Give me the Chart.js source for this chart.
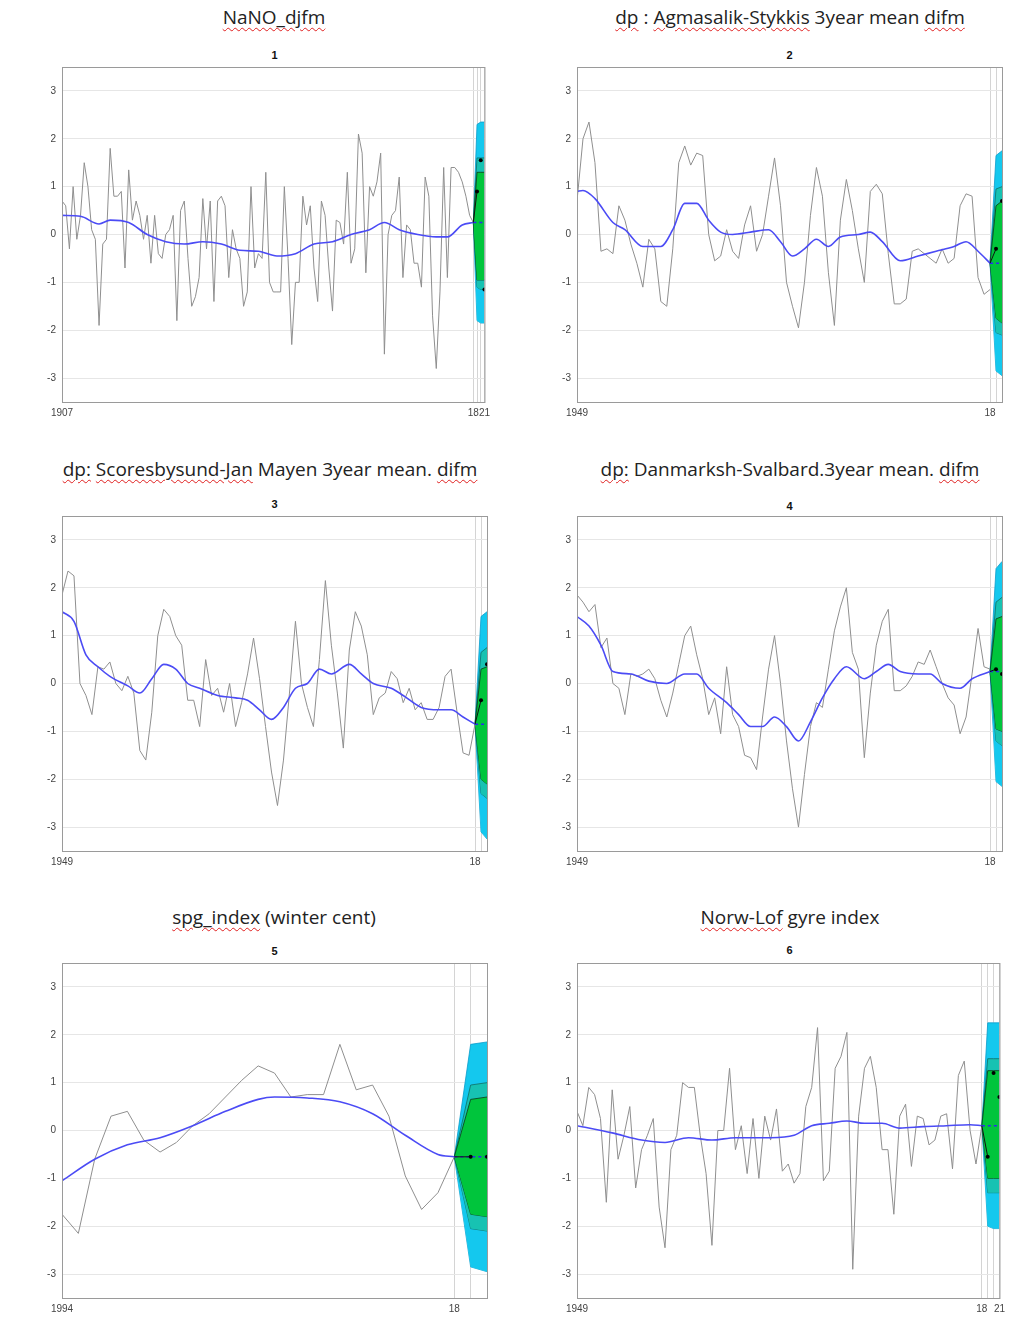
<!DOCTYPE html>
<html>
<head>
<meta charset="utf-8">
<script src="https://cdn.jsdelivr.net/npm/chart.js@4.4.1/dist/chart.umd.min.js"></script>
<style>
  body { margin: 0; background: #fff; width: 1012px; height: 1321px; overflow: hidden; position: relative; font-family: "Open Sans", "Noto Sans", sans-serif; }
  .title { position: absolute; width: 440px; text-align: center; font-size: 19px; color: #222; white-space: nowrap; }
  .sp { text-decoration: underline wavy #e02020; text-decoration-thickness: 1px; text-underline-offset: 3px; }
  .sub { position: absolute; width: 425px; text-align: center; font: bold 11px "Liberation Sans", Arial, sans-serif; color: #111; }
  canvas { position: absolute; }
</style>
</head>
<body>
<div class="title" style="left:54px;top:4px"><span class="sp">NaNO_djfm</span></div>
<div class="title" style="left:570px;top:4px"><span class="sp">dp</span> : <span class="sp">Agmasalik-Stykkis</span> 3year mean <span class="sp">difm</span></div>
<div class="title" style="left:30px;top:456px;width:480px"><span class="sp">dp:</span> <span class="sp">Scoresbysund-Jan</span> Mayen 3year mean. <span class="sp">difm</span></div>
<div class="title" style="left:550px;top:456px;width:480px"><span class="sp">dp:</span> Danmarksh-Svalbard.3year mean. <span class="sp">difm</span></div>
<div class="title" style="left:54px;top:904px"><span class="sp">spg_index</span> (winter cent)</div>
<div class="title" style="left:570px;top:904px"><span class="sp">Norw-Lof</span> gyre index</div>
<div class="sub" style="left:62px;top:49px">1</div>
<div class="sub" style="left:577px;top:49px">2</div>
<div class="sub" style="left:62px;top:498px">3</div>
<div class="sub" style="left:577px;top:500px">4</div>
<div class="sub" style="left:62px;top:945px">5</div>
<div class="sub" style="left:577px;top:944px">6</div>

<canvas id="c1" width="465" height="367" style="left:30px;top:55px"></canvas>
<canvas id="c2" width="465" height="367" style="left:545px;top:55px"></canvas>
<canvas id="c3" width="465" height="367" style="left:30px;top:504px"></canvas>
<canvas id="c4" width="465" height="367" style="left:545px;top:504px"></canvas>
<canvas id="c5" width="465" height="367" style="left:30px;top:951px"></canvas>
<canvas id="c6" width="465" height="367" style="left:545px;top:951px"></canvas>

<script>
// ---- data ----
const yTicks = [-3, -2, -1, 0, 1, 2, 3];

// panel 1: NaNO djfm, 1907-2018
const obs1 = [0.7,0.6,-0.3,1.0,-0.1,0.4,1.5,1.0,0.1,-0.1,-1.9,-0.2,-0.1,1.8,0.8,0.8,0.9,-0.7,1.35,0.3,
  0.7,0.4,-0.1,0.4,-0.6,0.4,-0.4,-0.5,0.0,0.1,0.4,-1.8,0.5,0.7,-0.5,-1.5,-1.3,-0.9,0.75,-0.3,
  0.7,-1.4,0.7,0.8,0.6,-0.9,0.1,-0.3,-0.5,-1.5,-1.2,1.0,-0.7,-0.4,-0.5,1.3,-1.0,-1.2,-1.2,-1.2,
  1.0,-0.5,-2.3,-1.0,-1.0,0.8,0.2,0.6,-0.7,-1.4,0.7,0.4,-0.7,-1.6,0.3,0.25,-0.2,1.3,-0.6,-0.3,
  2.1,1.7,-0.8,1.0,0.8,1.1,1.7,-2.5,0.0,0.4,0.5,1.2,-0.9,0.2,0.1,-0.6,-0.6,-1.1,1.2,0.8,
  -1.7,-2.8,-1.2,1.4,-0.9,1.4,1.4,1.3,1.1,0.8,0.4,0.25];
const smoothYears1 = [1907,1912,1917,1920,1925,1930,1935,1940,1945,1950,1955,1960,1965,1970,1975,1980,1985,1990,1994,1998,2003,2008,2011,2015,2018];
const smooth1 = [0.4,0.38,0.22,0.3,0.25,0.0,-0.15,-0.2,-0.15,-0.2,-0.33,-0.35,-0.45,-0.4,-0.2,-0.15,0.0,0.1,0.25,0.1,0.0,-0.05,-0.05,0.2,0.25];
const cyanHi1 = [0.25,2.3,2.35,2.35], cyanLo1 = [0.25,-1.8,-1.85,-1.85];
const tealHi1 = [0.25,1.6,1.6,1.6],   tealLo1 = [0.25,-1.1,-1.15,-1.15];
const greenHi1 = [0.25,1.3,1.3,1.3],  greenLo1 = [0.25,-0.95,-0.95,-0.95];
const fcst1 = [0.25,0.9,1.55,-1.15];

// panel 2: Agmasalik-Stykkis, 1949-2018
const obs2 = [0.7,2.0,2.35,1.5,-0.35,-0.3,-0.4,0.6,0.3,-0.2,-0.6,-1.1,-0.1,-0.3,-1.4,-1.5,-0.3,1.5,1.85,1.45,
  1.7,1.65,0.0,-0.55,-0.45,0.1,-0.35,-0.5,0.2,0.6,-0.35,0.0,0.8,1.6,0.6,-1.0,-1.5,-1.95,-1.0,0.4,
  1.4,0.8,-0.8,-1.9,0.3,1.15,0.5,-0.3,-1.0,0.9,1.05,0.85,-0.4,-1.45,-1.45,-1.35,-0.35,-0.3,-0.4,-0.5,
  -0.6,-0.3,-0.6,-0.5,0.6,0.85,0.8,-0.9,-1.25,-1.15];
const smoothYears2 = [1949,1950,1952,1955,1957,1960,1963,1965,1967,1969,1971,1973,1975,1978,1981,1983,1985,1987,1989,1991,1993,1996,1998,2000,2003,2006,2009,2012,2014,2016,2018];
const smooth2 = [0.9,0.92,0.75,0.25,0.1,-0.25,-0.25,0.1,0.65,0.65,0.3,0.05,0.0,0.05,0.1,-0.15,-0.45,-0.3,-0.1,-0.25,-0.05,0.0,0.05,-0.15,-0.55,-0.45,-0.35,-0.25,-0.15,-0.35,-0.6];
const cyanHi2 = [-0.6,1.65,1.75],  cyanLo2 = [-0.6,-2.85,-2.95];
const tealHi2 = [-0.6,0.95,1.0],   tealLo2 = [-0.6,-2.05,-2.1];
const greenHi2 = [-0.6,0.6,0.7],   greenLo2 = [-0.6,-1.75,-1.85];
const fcst2 = [-0.6,-0.3,0.7];

// panel 3: Scoresbysund-Jan Mayen, 1949-2018
const obs3 = [1.85,2.35,2.25,0.0,-0.25,-0.65,0.35,0.3,0.45,0.0,-0.15,0.15,-0.2,-1.4,-1.6,-0.6,1.0,1.55,1.4,1.0,
  0.8,-0.35,-0.35,-0.9,0.5,-0.25,-0.1,-0.6,0.0,-0.9,-0.4,0.2,0.95,0.1,-0.9,-1.85,-2.55,-1.6,-0.2,1.3,
  0.0,-0.5,-0.9,0.5,2.15,0.8,-0.2,-1.35,0.7,1.5,1.2,0.6,-0.65,-0.3,-0.2,0.25,0.1,-0.4,-0.1,-0.55,
  -0.4,-0.75,-0.75,-0.5,0.15,0.3,-0.6,-1.45,-1.5,-0.85];
const smoothYears3 = [1949,1951,1953,1955,1957,1960,1962,1964,1966,1968,1970,1972,1975,1978,1980,1982,1984,1986,1988,1990,1992,1994,1997,1999,2001,2004,2006,2009,2012,2014,2016,2018];
const smooth3 = [1.5,1.3,0.6,0.35,0.15,-0.05,-0.2,0.1,0.4,0.3,0.0,-0.1,-0.25,-0.3,-0.35,-0.55,-0.75,-0.5,-0.1,0.0,0.3,0.2,0.4,0.2,0.0,-0.1,-0.25,-0.5,-0.55,-0.55,-0.7,-0.85];
const cyanHi3 = [-0.85,1.4,1.5],   cyanLo3 = [-0.85,-3.1,-3.25];
const tealHi3 = [-0.85,0.65,0.75], tealLo3 = [-0.85,-2.3,-2.4];
const greenHi3 = [-0.85,0.3,0.35], greenLo3 = [-0.85,-2.0,-2.1];
const fcst3 = [-0.85,-0.35,0.4];

// panel 4: Danmarksh-Svalbard, 1949-2018
const obs4 = [1.85,1.7,1.5,1.65,0.75,0.95,0.0,-0.1,-0.65,0.2,0.15,0.2,0.3,0.1,-0.35,-0.7,-0.2,0.4,1.0,1.2,
  0.6,0.1,-0.65,-0.3,-1.05,0.35,-0.65,-0.9,-1.5,-1.55,-1.8,-0.7,0.3,1.0,0.0,-1.2,-2.2,-3.0,-1.9,-0.9,
  -0.4,-0.5,0.3,1.1,1.6,2.0,0.65,0.3,-1.55,-0.2,0.8,1.3,1.55,-0.15,-0.15,-0.05,0.15,0.45,0.4,0.7,
  0.35,0.0,-0.3,-0.45,-1.05,-0.7,0.2,1.15,0.35,0.3];
const smoothYears4 = [1949,1951,1953,1955,1958,1961,1964,1967,1969,1971,1974,1976,1978,1980,1982,1984,1986,1988,1990,1992,1994,1997,1999,2001,2003,2006,2008,2010,2013,2015,2018];
const smooth4 = [1.4,1.2,0.8,0.25,0.2,0.05,0.0,0.2,0.2,-0.1,-0.4,-0.65,-0.9,-0.9,-0.7,-0.9,-1.2,-0.8,-0.3,0.1,0.35,0.1,0.25,0.4,0.25,0.2,0.2,0.0,-0.1,0.1,0.25];
const cyanHi4 = [0.25,2.4,2.55],   cyanLo4 = [0.25,-2.05,-2.15];
const tealHi4 = [0.25,1.7,1.8],    tealLo4 = [0.25,-1.2,-1.3];
const greenHi4 = [0.25,1.35,1.4],  greenLo4 = [0.25,-0.95,-1.0];
const fcst4 = [0.25,0.3,0.2];

// panel 5: spg index (winter cent), 1994-2018
const obs5 = [-1.75,-2.15,-0.6,0.3,0.4,-0.2,-0.45,-0.25,0.1,0.35,0.7,1.05,1.35,1.2,0.7,0.75,0.75,1.8,0.85,0.95,
  0.3,-0.95,-1.65,-1.3,-0.55];
const smoothYears5 = [1994,1996,1998,2000,2002,2004,2006,2007,2009,2011,2013,2015,2017,2018];
const smooth5 = [-1.05,-0.6,-0.3,-0.15,0.1,0.4,0.65,0.7,0.68,0.6,0.35,-0.1,-0.5,-0.55];
const cyanHi5 = [-0.55,1.8,1.85],  cyanLo5 = [-0.55,-2.85,-2.95];
const tealHi5 = [-0.55,0.95,1.0],  tealLo5 = [-0.55,-2.05,-2.1];
const greenHi5 = [-0.55,0.65,0.7], greenLo5 = [-0.55,-1.75,-1.8];
const fcst5 = [-0.55,-0.55,-0.55];

// panel 6: Norw-Lof gyre index, 1949-2018
const obs6 = [0.4,0.1,0.9,0.75,0.25,-1.5,0.85,-0.6,-0.1,0.5,-1.2,-0.4,-0.1,0.25,-1.6,-2.45,-0.4,-0.1,1.0,0.9,
  0.9,-0.1,-0.9,-2.4,0.0,0.0,1.3,-0.4,0.1,-0.9,0.25,-1.0,0.3,-0.2,0.45,-0.85,-0.7,-1.1,-0.9,0.5,
  0.9,2.15,-1.05,-0.85,1.3,1.55,2.05,-2.9,0.3,1.3,1.55,0.9,-0.4,-0.4,-1.75,0.3,0.55,-0.75,0.3,0.25,
  -0.3,-0.2,0.3,0.35,-0.8,1.15,1.45,0.0,-0.7,0.1];
const smoothYears6 = [1949,1955,1960,1964,1968,1972,1976,1982,1986,1989,1992,1995,1998,2001,2004,2008,2012,2016,2018];
const smooth6 = [0.1,-0.05,-0.2,-0.25,-0.15,-0.2,-0.15,-0.15,-0.1,0.1,0.15,0.2,0.15,0.15,0.05,0.08,0.1,0.12,0.1];
const cyanHi6 = [0.1,2.25,2.25,2.25], cyanLo6 = [0.1,-2.0,-2.05,-2.05];
const tealHi6 = [0.1,1.5,1.5,1.5],    tealLo6 = [0.1,-1.3,-1.3,-1.3];
const greenHi6 = [0.1,1.25,1.25,1.25],greenLo6 = [0.1,-1.0,-1.0,-1.0];
const fcst6 = [0.1,-0.55,1.2,0.7];

const lastObsYear = 2018;

// ---- drawing ----
const frame = {
  id: 'frame',
  afterDraw(chart) {
    const a = chart.chartArea, c = chart.ctx;
    c.save();
    c.strokeStyle = '#9a9a9a';
    c.lineWidth = 1;
    c.strokeRect(a.left + 0.5, a.top + 0.5, a.right - a.left, a.bottom - a.top);
    c.restore();
  }
};

function pts(x0, ys) { return ys.map((y, i) => ({ x: x0 + i, y })); }
function xy(xs, ys) { return xs.map((x, i) => ({ x, y: ys[i] })); }

function band(hi, lo, fillCol, edge, ord) {
  return [
    { data: pts(lastObsYear, hi), fill: '+1', backgroundColor: fillCol, borderColor: edge, borderWidth: 0.8, pointRadius: 0, order: ord },
    { data: pts(lastObsYear, lo), fill: false, borderColor: edge, borderWidth: 0.8, pointRadius: 0, order: ord }
  ];
}

function makePanel(id, startYear, endYear, obs, sYears, sVals, cHi, cLo, tHi, tLo, gHi, gLo, fc) {
  const last = sVals[sVals.length - 1];
  const dotted = fc.map(() => last);
  const datasets = [
    ...band(cHi, cLo, '#14c8ee', '#0a9ccc', 10),
    ...band(tHi, tLo, '#17c2b2', '#0f6f66', 9),
    ...band(gHi, gLo, '#00c53c', '#0b3a14', 8),
    { data: pts(startYear, obs), borderColor: '#8f8f8f', borderWidth: 1, pointRadius: 0, tension: 0, fill: false, order: 5 },
    { data: xy(sYears, sVals), borderColor: '#4b4bf5', borderWidth: 1.6, pointRadius: 0, cubicInterpolationMode: 'monotone', fill: false, order: 4 },
    { data: pts(lastObsYear, dotted), borderColor: '#2b2bf0', borderWidth: 1.6, borderDash: [3, 3], pointRadius: 0, fill: false, order: 3 },
    { data: pts(lastObsYear, fc), borderColor: '#111', borderWidth: 1, fill: false, order: 2,
      segment: { borderColor: s => s.p0DataIndex === 0 ? '#111' : 'rgba(0,0,0,0)' },
      pointRadius: fc.map((v, i) => i === 0 ? 0 : 2), pointBackgroundColor: '#000', pointBorderWidth: 0 }
  ];
  const xt = [startYear];
  for (let y = lastObsYear; y <= endYear; y++) xt.push(y);
  new Chart(document.getElementById(id), {
    type: 'line',
    data: { datasets },
    options: {
      responsive: false,
      animation: false,
      layout: { padding: { top: 5, right: 8, left: 0, bottom: 0 } },
      plugins: { legend: { display: false }, tooltip: { enabled: false } },
      scales: {
        x: {
          type: 'linear', min: startYear, max: endYear,
          afterBuildTicks: s => { s.ticks = xt.map(v => ({ value: v })); },
          afterFit: s => { s.height = 20; },
          border: { display: false },
          grid: { color: c => (c.tick && c.tick.value >= lastObsYear) ? '#d4d4d4' : 'rgba(0,0,0,0)', drawTicks: false },
          ticks: {
            autoSkip: false, maxRotation: 0, padding: 5,
            font: { size: 10, family: 'Liberation Sans' }, color: '#444',
            callback: v => v === startYear ? String(v) : (v === lastObsYear ? '18' : (v === 2021 ? '21' : ''))
          }
        },
        y: {
          min: -3.5, max: 3.5,
          afterBuildTicks: s => { s.ticks = yTicks.map(v => ({ value: v })); },
          afterFit: s => { s.width = 32; },
          border: { display: false },
          grid: { color: '#e6e6e6', drawTicks: false },
          ticks: { padding: 6, font: { size: 10, family: 'Liberation Sans' }, color: '#444' }
        }
      }
    },
    plugins: [frame]
  });
}

makePanel('c1', 1907, 2021, obs1, smoothYears1, smooth1, cyanHi1, cyanLo1, tealHi1, tealLo1, greenHi1, greenLo1, fcst1);
makePanel('c2', 1949, 2020, obs2, smoothYears2, smooth2, cyanHi2, cyanLo2, tealHi2, tealLo2, greenHi2, greenLo2, fcst2);
makePanel('c3', 1949, 2020, obs3, smoothYears3, smooth3, cyanHi3, cyanLo3, tealHi3, tealLo3, greenHi3, greenLo3, fcst3);
makePanel('c4', 1949, 2020, obs4, smoothYears4, smooth4, cyanHi4, cyanLo4, tealHi4, tealLo4, greenHi4, greenLo4, fcst4);
makePanel('c5', 1994, 2020, obs5, smoothYears5, smooth5, cyanHi5, cyanLo5, tealHi5, tealLo5, greenHi5, greenLo5, fcst5);
makePanel('c6', 1949, 2021, obs6, smoothYears6, smooth6, cyanHi6, cyanLo6, tealHi6, tealLo6, greenHi6, greenLo6, fcst6);
</script>
</body>
</html>
